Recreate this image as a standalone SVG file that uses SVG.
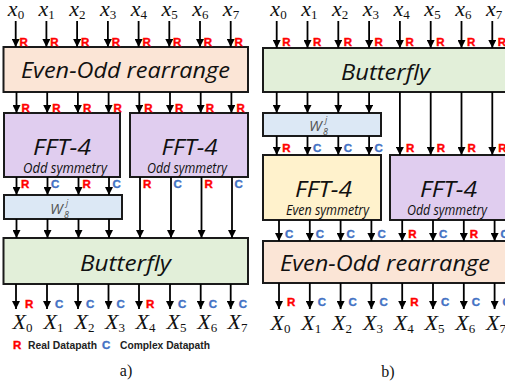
<svg xmlns="http://www.w3.org/2000/svg" width="505" height="390" viewBox="0 0 505 390">
<defs>
<marker id="ah" markerUnits="userSpaceOnUse" markerWidth="8" markerHeight="8" refX="8" refY="4" orient="auto" viewBox="0 0 8 8">
<path d="M0,0 L8,4 L0,8 Z" fill="#000"/>
</marker>
<style>
.box{stroke:#1a1a1a;stroke-width:2}
.peach{fill:#fbe5d6}.lav{fill:#e0cdef}.blue{fill:#dce8f5}.green{fill:#e2efd9}.yel{fill:#fff2cc}
.big{font-family:"Open Sans","Liberation Sans",sans-serif;font-style:italic;font-size:21px;fill:#111;text-anchor:middle}
.sym{font-family:"Open Sans","Liberation Sans",sans-serif;font-style:italic;font-size:15px;fill:#111;text-anchor:middle}
.w{font-family:"Open Sans","Liberation Sans",sans-serif;font-style:italic;font-size:15px;fill:#555}
.ws{font-family:"Open Sans","Liberation Sans",sans-serif;font-style:italic;font-size:9px;fill:#555}
line{stroke:#000;stroke-width:1.8;marker-end:url(#ah)}
.R{font-family:"Liberation Sans",Arial,sans-serif;font-weight:bold;font-size:11.5px;fill:#ff0000;stroke:#ff0000;stroke-width:0.4}
.C{font-family:"Liberation Sans",Arial,sans-serif;font-weight:bold;font-size:11.5px;fill:#4472c4;stroke:#4472c4;stroke-width:0.4}
.m{font-family:"Liberation Serif","DejaVu Serif",serif;font-style:italic;font-size:22px;fill:#111;text-anchor:middle}
.sub{font-style:normal;font-size:13px}
.leg{font-family:"Liberation Sans",Arial,sans-serif;font-weight:bold;font-size:11px;fill:#222}
.cap{font-family:"Liberation Serif","Times New Roman",serif;font-size:16px;fill:#111;text-anchor:middle}
</style>
</defs>

<!-- ===== Panel a ===== -->
<g id="a-evenodd"><rect class="box peach" x="3.5" y="47" width="244.5" height="45"/><text class="big" x="125.5" y="78" textLength="209" lengthAdjust="spacingAndGlyphs">Even-Odd rearrange</text></g>
<g id="a-fft1"><rect class="box lav" x="4" y="113" width="116" height="64"/><text class="big" x="62" y="155" font-size="23" textLength="58" lengthAdjust="spacingAndGlyphs">FFT-4</text><text class="sym" x="65" y="173" textLength="84" lengthAdjust="spacingAndGlyphs">Odd symmetry</text></g>
<g id="a-fft2"><rect class="box lav" x="130" y="113" width="118" height="64"/><text class="big" x="189.5" y="155" font-size="23" textLength="56" lengthAdjust="spacingAndGlyphs">FFT-4</text><text class="sym" x="187" y="173" textLength="80" lengthAdjust="spacingAndGlyphs">Odd symmetry</text></g>
<g id="a-tw"><rect class="box blue" x="4" y="195" width="118" height="24"/><text class="w" x="50" y="214">W</text><text class="ws" x="64" y="218">8</text><text class="ws" x="66" y="206">j</text></g>
<g id="a-bfly"><rect class="box green" x="3.5" y="238" width="244.5" height="46"/><text class="big" x="125.5" y="271" textLength="91" lengthAdjust="spacingAndGlyphs">Butterfly</text></g>

<!-- ===== Panel b ===== -->
<g id="b-bfly"><rect class="box green" x="263" y="48" width="250" height="44"/><text class="big" x="385.5" y="80" textLength="89" lengthAdjust="spacingAndGlyphs">Butterfly</text></g>
<g id="b-tw"><rect class="box blue" x="263" y="113" width="118" height="23"/><text class="w" x="309" y="131">W</text><text class="ws" x="323" y="135">8</text><text class="ws" x="325" y="123">j</text></g>
<g id="b-fft1"><rect class="box yel" x="263" y="155" width="118" height="65"/><text class="big" x="323.5" y="197" font-size="23" textLength="57" lengthAdjust="spacingAndGlyphs">FFT-4</text><text class="sym" x="327.5" y="215" textLength="83" lengthAdjust="spacingAndGlyphs">Even symmetry</text></g>
<g id="b-fft2"><rect class="box lav" x="390" y="155" width="123" height="65"/><text class="big" x="448.5" y="197" font-size="23" textLength="57" lengthAdjust="spacingAndGlyphs">FFT-4</text><text class="sym" x="447" y="215" textLength="80" lengthAdjust="spacingAndGlyphs">Odd symmetry</text></g>
<g id="b-evenodd"><rect class="box peach" x="263" y="241" width="250" height="42"/><text class="big" x="385" y="271" textLength="210" lengthAdjust="spacingAndGlyphs">Even-Odd rearrange</text></g>

<!-- ===== Connectors ===== -->
<g id="connectors">
<line x1="15.7" y1="21" x2="15.7" y2="47"/><line x1="46.4" y1="21" x2="46.4" y2="47"/><line x1="77.1" y1="21" x2="77.1" y2="47"/><line x1="107.9" y1="21" x2="107.9" y2="47"/><line x1="138.6" y1="21" x2="138.6" y2="47"/><line x1="169.3" y1="21" x2="169.3" y2="47"/><line x1="200" y1="21" x2="200" y2="47"/><line x1="230.7" y1="21" x2="230.7" y2="47"/>
<line x1="16.5" y1="92" x2="16.5" y2="113"/><line x1="47.2" y1="92" x2="47.2" y2="113"/><line x1="77.9" y1="92" x2="77.9" y2="113"/><line x1="108.6" y1="92" x2="108.6" y2="113"/><line x1="139.3" y1="92" x2="139.3" y2="113"/><line x1="170" y1="92" x2="170" y2="113"/><line x1="200.7" y1="92" x2="200.7" y2="113"/><line x1="231.4" y1="92" x2="231.4" y2="113"/>
<line x1="16.5" y1="177" x2="16.5" y2="195"/><line x1="47.5" y1="177" x2="47.5" y2="195"/><line x1="78.5" y1="177" x2="78.5" y2="195"/><line x1="109" y1="177" x2="109" y2="195"/>
<line x1="140" y1="177" x2="140" y2="238"/><line x1="171" y1="177" x2="171" y2="238"/><line x1="201.5" y1="177" x2="201.5" y2="238"/><line x1="232" y1="177" x2="232" y2="238"/>
<line x1="16.5" y1="219" x2="16.5" y2="238"/><line x1="47.5" y1="219" x2="47.5" y2="238"/><line x1="78.5" y1="219" x2="78.5" y2="238"/><line x1="109" y1="219" x2="109" y2="238"/>
<line x1="16" y1="284" x2="16" y2="309"/><line x1="47" y1="284" x2="47" y2="309"/><line x1="78" y1="284" x2="78" y2="309"/><line x1="108.5" y1="284" x2="108.5" y2="309"/><line x1="139" y1="284" x2="139" y2="309"/><line x1="170" y1="284" x2="170" y2="309"/><line x1="200.7" y1="284" x2="200.7" y2="309"/><line x1="230.7" y1="284" x2="230.7" y2="309"/>
<line x1="276.7" y1="21" x2="276.7" y2="48"/><line x1="307.5" y1="21" x2="307.5" y2="48"/><line x1="338.3" y1="21" x2="338.3" y2="48"/><line x1="369.1" y1="21" x2="369.1" y2="48"/><line x1="399.9" y1="21" x2="399.9" y2="48"/><line x1="430.7" y1="21" x2="430.7" y2="48"/><line x1="461.5" y1="21" x2="461.5" y2="48"/><line x1="492.3" y1="21" x2="492.3" y2="48"/>
<line x1="276.7" y1="92" x2="276.7" y2="113"/><line x1="307.5" y1="92" x2="307.5" y2="113"/><line x1="338.3" y1="92" x2="338.3" y2="113"/><line x1="369.1" y1="92" x2="369.1" y2="113"/>
<line x1="399.9" y1="92" x2="399.9" y2="155"/><line x1="430.7" y1="92" x2="430.7" y2="155"/><line x1="461.5" y1="92" x2="461.5" y2="155"/><line x1="492.3" y1="92" x2="492.3" y2="155"/>
<line x1="276.7" y1="136" x2="276.7" y2="155"/><line x1="307.5" y1="136" x2="307.5" y2="155"/><line x1="338.3" y1="136" x2="338.3" y2="155"/><line x1="369.1" y1="136" x2="369.1" y2="155"/>
<line x1="279" y1="220" x2="279" y2="241"/><line x1="309.8" y1="220" x2="309.8" y2="241"/><line x1="340.6" y1="220" x2="340.6" y2="241"/><line x1="371.4" y1="220" x2="371.4" y2="241"/><line x1="402.2" y1="220" x2="402.2" y2="241"/><line x1="433" y1="220" x2="433" y2="241"/><line x1="463.8" y1="220" x2="463.8" y2="241"/><line x1="494.6" y1="220" x2="494.6" y2="241"/>
<line x1="279" y1="283" x2="279" y2="309"/><line x1="309.8" y1="283" x2="309.8" y2="309"/><line x1="340.6" y1="283" x2="340.6" y2="309"/><line x1="371.4" y1="283" x2="371.4" y2="309"/><line x1="402.2" y1="283" x2="402.2" y2="309"/><line x1="433" y1="283" x2="433" y2="309"/><line x1="463.8" y1="283" x2="463.8" y2="309"/><line x1="494.6" y1="283" x2="494.6" y2="309"/>
</g>

<!-- ===== Datapath tags ===== -->
<g id="tags">
<text class="R" x="19.5" y="46">R</text><text class="R" x="50.2" y="46">R</text><text class="R" x="80.9" y="46">R</text><text class="R" x="111.7" y="46">R</text><text class="R" x="142.4" y="46">R</text><text class="R" x="173.1" y="46">R</text><text class="R" x="203.8" y="46">R</text><text class="R" x="234.5" y="46">R</text>
<text class="R" x="21.5" y="112">R</text><text class="R" x="52.2" y="112">R</text><text class="R" x="82.9" y="112">R</text><text class="R" x="113.6" y="112">R</text><text class="R" x="144.3" y="112">R</text><text class="R" x="175" y="112">R</text><text class="R" x="205.7" y="112">R</text><text class="R" x="236.4" y="112">R</text>
<text class="R" x="21" y="188">R</text><text class="C" x="51" y="188">C</text><text class="R" x="82.5" y="188">R</text><text class="C" x="112.5" y="188">C</text>
<text class="R" x="143" y="188">R</text><text class="C" x="173.5" y="188">C</text><text class="R" x="204.5" y="188">R</text><text class="C" x="234.5" y="188">C</text>
<text class="R" x="25" y="308">R</text><text class="C" x="55" y="308">C</text><text class="C" x="86" y="308">C</text><text class="C" x="116.5" y="308">C</text><text class="R" x="146" y="308">R</text><text class="C" x="178" y="308">C</text><text class="C" x="208.7" y="308">C</text><text class="C" x="238.7" y="308">C</text>
<text class="R" x="282.2" y="46">R</text><text class="R" x="313" y="46">R</text><text class="R" x="343.8" y="46">R</text><text class="R" x="374.6" y="46">R</text><text class="R" x="405.4" y="46">R</text><text class="R" x="436.2" y="46">R</text><text class="R" x="467" y="46">R</text><text class="R" x="497.8" y="46">R</text>
<text class="R" x="282.2" y="152">R</text><text class="C" x="313" y="152">C</text><text class="C" x="343.8" y="152">C</text><text class="C" x="374.6" y="152">C</text>
<text class="R" x="405.9" y="152">R</text><text class="R" x="436.7" y="152">R</text><text class="R" x="467.5" y="152">R</text><text class="R" x="498.3" y="152">R</text>
<text class="C" x="285" y="238">C</text><text class="C" x="315.8" y="238">C</text><text class="C" x="346.6" y="238">C</text><text class="C" x="377.4" y="238">C</text><text class="R" x="408.2" y="238">R</text><text class="C" x="439" y="238">C</text><text class="R" x="469.8" y="238">R</text><text class="C" x="500.6" y="238">C</text>
<text class="R" x="287" y="306">R</text><text class="C" x="317.8" y="306">C</text><text class="C" x="348.6" y="306">C</text><text class="C" x="379.4" y="306">C</text><text class="R" x="410.2" y="306">R</text><text class="C" x="441" y="306">C</text><text class="C" x="471.8" y="306">C</text><text class="C" x="502.6" y="306">C</text>
</g>

<!-- ===== Math labels ===== -->
<g id="labels">
<text class="m" x="16" y="16">x<tspan class="sub" dy="3">0</tspan></text>
<text class="m" x="46.7" y="16">x<tspan class="sub" dy="3">1</tspan></text>
<text class="m" x="77.4" y="16">x<tspan class="sub" dy="3">2</tspan></text>
<text class="m" x="108.2" y="16">x<tspan class="sub" dy="3">3</tspan></text>
<text class="m" x="138.9" y="16">x<tspan class="sub" dy="3">4</tspan></text>
<text class="m" x="169.6" y="16">x<tspan class="sub" dy="3">5</tspan></text>
<text class="m" x="200.3" y="16">x<tspan class="sub" dy="3">6</tspan></text>
<text class="m" x="231" y="16">x<tspan class="sub" dy="3">7</tspan></text>
<text class="m" x="278.5" y="16">x<tspan class="sub" dy="3">0</tspan></text>
<text class="m" x="309.3" y="16">x<tspan class="sub" dy="3">1</tspan></text>
<text class="m" x="340.1" y="16">x<tspan class="sub" dy="3">2</tspan></text>
<text class="m" x="370.9" y="16">x<tspan class="sub" dy="3">3</tspan></text>
<text class="m" x="401.7" y="16">x<tspan class="sub" dy="3">4</tspan></text>
<text class="m" x="432.5" y="16">x<tspan class="sub" dy="3">5</tspan></text>
<text class="m" x="463.3" y="16">x<tspan class="sub" dy="3">6</tspan></text>
<text class="m" x="494.1" y="16">x<tspan class="sub" dy="3">7</tspan></text>
<text class="m" x="22.5" y="329">X<tspan class="sub" dy="3">0</tspan></text>
<text class="m" x="53.5" y="329">X<tspan class="sub" dy="3">1</tspan></text>
<text class="m" x="84.5" y="329">X<tspan class="sub" dy="3">2</tspan></text>
<text class="m" x="115" y="329">X<tspan class="sub" dy="3">3</tspan></text>
<text class="m" x="145.5" y="329">X<tspan class="sub" dy="3">4</tspan></text>
<text class="m" x="176.5" y="329">X<tspan class="sub" dy="3">5</tspan></text>
<text class="m" x="207.2" y="329">X<tspan class="sub" dy="3">6</tspan></text>
<text class="m" x="237.5" y="329">X<tspan class="sub" dy="3">7</tspan></text>
<text class="m" x="280.5" y="330">X<tspan class="sub" dy="3">0</tspan></text>
<text class="m" x="311.3" y="330">X<tspan class="sub" dy="3">1</tspan></text>
<text class="m" x="342.1" y="330">X<tspan class="sub" dy="3">2</tspan></text>
<text class="m" x="372.9" y="330">X<tspan class="sub" dy="3">3</tspan></text>
<text class="m" x="403.7" y="330">X<tspan class="sub" dy="3">4</tspan></text>
<text class="m" x="434.5" y="330">X<tspan class="sub" dy="3">5</tspan></text>
<text class="m" x="465.3" y="330">X<tspan class="sub" dy="3">6</tspan></text>
<text class="m" x="496.1" y="330">X<tspan class="sub" dy="3">7</tspan></text>
</g>

<!-- ===== Legend & captions ===== -->
<g id="legend">
<text class="R" x="13" y="349">R</text>
<text class="leg" x="28" y="349" textLength="69" lengthAdjust="spacingAndGlyphs">Real Datapath</text>
<text class="C" x="102" y="349">C</text>
<text class="leg" x="120" y="349" textLength="90" lengthAdjust="spacingAndGlyphs">Complex Datapath</text>
</g>
<text class="cap" x="126" y="376">a)</text>
<text class="cap" x="388" y="377">b)</text>
</svg>
